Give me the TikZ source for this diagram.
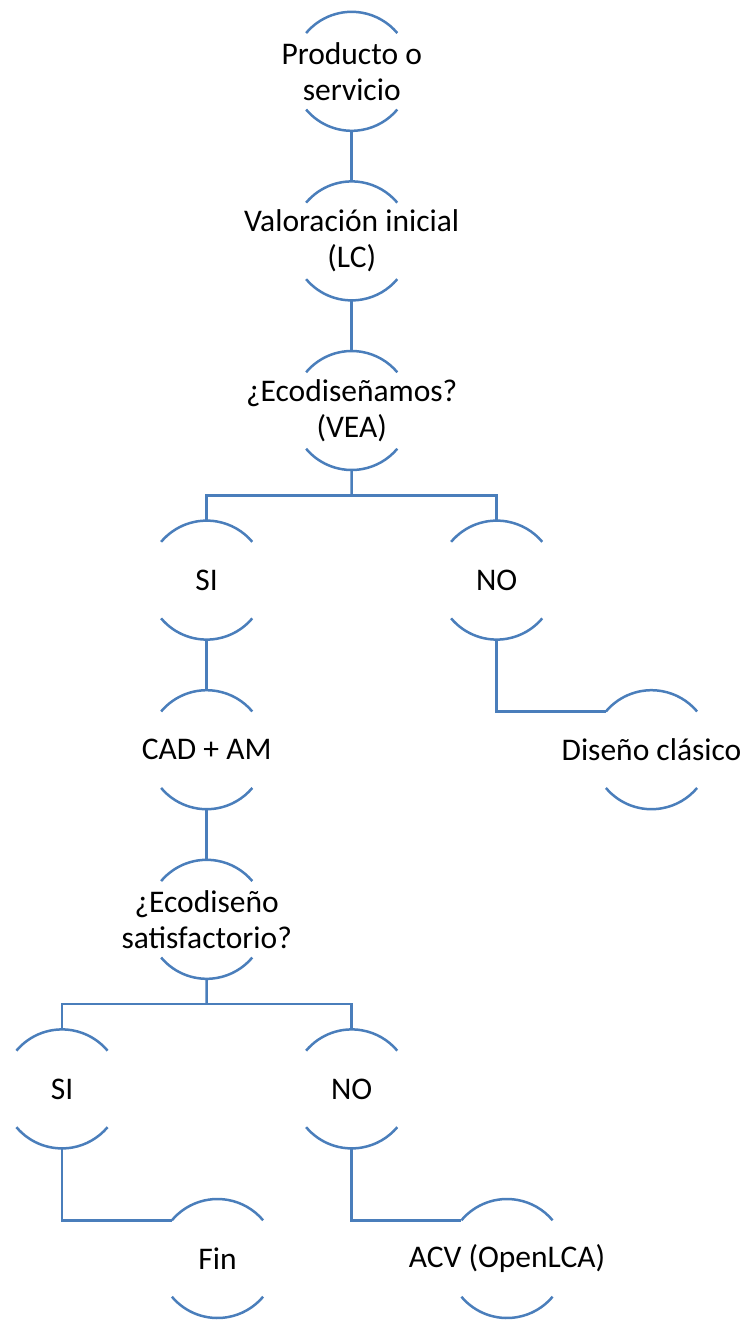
\documentclass[tikz,border=0pt]{standalone}
\usepackage{fontspec}
\setmainfont{Carlito}
\usetikzlibrary{calc}
\definecolor{stageblue}{RGB}{74,126,187}
\tikzset{
  stage/.style={circle, minimum size=119pt, inner sep=0pt, outer sep=0pt},
  stagetext/.style={align=center, text=black, inner sep=0pt,
    font=\fontsize{31.5}{36}\selectfont},
  rim/.style={draw=stageblue, line width=2.5pt},
  link/.style={draw=stageblue, line width=2.5pt},
}
\begin{document}
\begin{tikzpicture}[x=1pt, y=-1pt]
\useasboundingbox (0,0) rectangle (747,1320);

% stages of the decision tree
\node[stage, label={[stagetext]center:Producto o\\servicio}] (prod) at (351.7,71.3) {};
\node[stage, label={[stagetext]center:Valoración inicial\\(LC)}] (val) at (351.7,240.9) {};
\node[stage, label={[stagetext]center:¿Ecodiseñamos?\\(VEA)}] (eco) at (351.7,410.5) {};
\node[stage, label={[stagetext]center:SI}] (si1) at (206.7,580.1) {};
\node[stage, label={[stagetext]center:NO}] (no1) at (496.7,580.1) {};
\node[stage, label={[stagetext]center:Diseño clásico}] (clas) at (651.5,749.7) {};
\node[stage, label={[stagetext]center:CAD + AM}] (cad) at (206.7,749.7) {};
\node[stage, label={[stagetext]center:¿Ecodiseño\\satisfactorio?}] (sat) at (206.7,919.3) {};
\node[stage, label={[stagetext]center:SI}] (si2) at (62,1088.9) {};
\node[stage, label={[stagetext]center:NO}] (no2) at (351.7,1088.9) {};
\node[stage, label={[stagetext]center:Fin}] (fin) at (217.5,1258.5) {};
\node[stage, label={[stagetext]center:ACV (OpenLCA)}] (acv) at (507,1258.5) {};

% upper and lower rims of each stage
\foreach \n in {prod,val,eco,si1,no1,clas,cad,sat,si2,no2,fin,acv}{
  \draw[rim] (\n.140) arc[start angle=140, end angle=40, radius=59.5pt];
  \draw[rim] (\n.220) arc[start angle=220, end angle=320, radius=59.5pt];
}

% connectors
\draw[link] (prod.south) -- (val.north);
\draw[link] (val.south) -- (eco.north);
\draw[link] (eco.south) -- ($(eco.south)!0.5!(eco.south |- si1.north)$) coordinate (bar1);
\draw[link] (si1.north) |- (bar1) -| (no1.north);
\draw[link] (no1.south) |- (clas.140);
\draw[link] (si1.south) -- (cad.north);
\draw[link] (cad.south) -- (sat.north);
\draw[link] (sat.south) -- ($(sat.south)!0.5!(sat.south |- si2.north)$) coordinate (bar2);
\draw[link] (si2.north) |- (bar2) -| (no2.north);
\draw[link] (si2.south) |- (fin.140);
\draw[link] (no2.south) |- (acv.140);
\end{tikzpicture}
\end{document}
